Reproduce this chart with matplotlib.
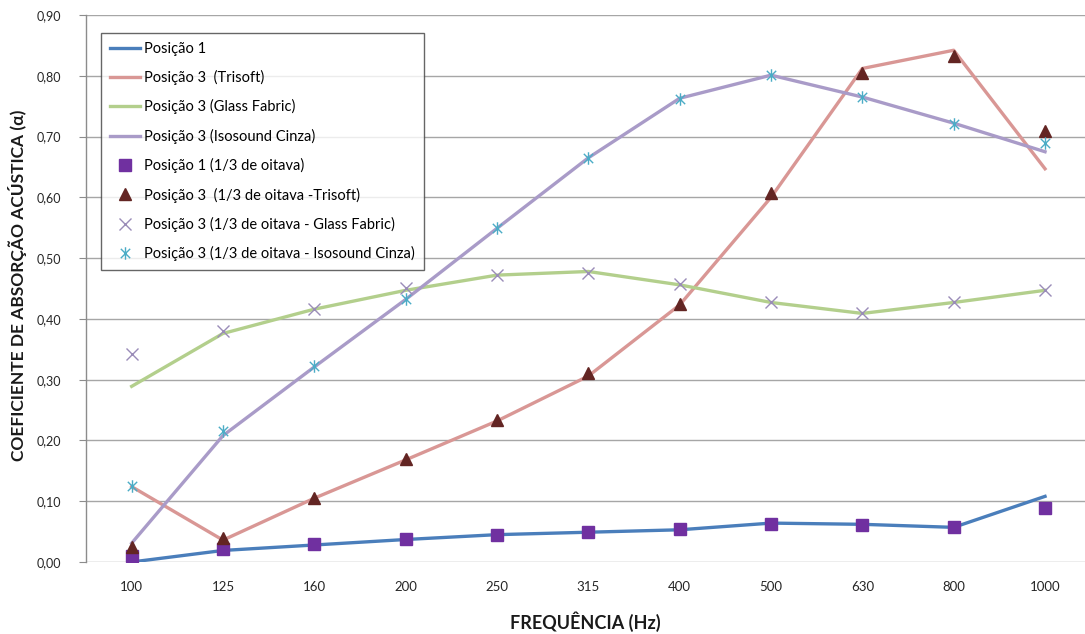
import matplotlib
matplotlib.use("Agg")
import matplotlib.pyplot as plt
from matplotlib.path import Path
from matplotlib.ticker import FuncFormatter, MultipleLocator

plt.rcParams['font.family'] = ['Lato', 'DejaVu Sans']

frequencias = ['100', '125', '160', '200', '250', '315', '400', '500', '630', '800', '1000']

posicao1 = [0.000, 0.019, 0.028, 0.037, 0.045, 0.049, 0.053, 0.064, 0.062, 0.057, 0.108]
trisoft = [0.124, 0.036, 0.105, 0.168, 0.232, 0.306, 0.423, 0.600, 0.812, 0.842, 0.647]
glass_fabric = [0.289, 0.376, 0.416, 0.447, 0.472, 0.478, 0.456, 0.427, 0.409, 0.427, 0.447]
isosound = [0.031, 0.208, 0.321, 0.432, 0.549, 0.665, 0.763, 0.801, 0.765, 0.722, 0.675]

posicao1_oct = [0.010, 0.021, 0.029, 0.038, 0.045, 0.049, 0.054, 0.063, 0.061, 0.058, 0.089]
trisoft_oct = [0.025, 0.040, 0.105, 0.169, 0.234, 0.311, 0.425, 0.607, 0.804, 0.832, 0.709]
glass_fabric_oct = [0.342, 0.380, 0.416, 0.450, 0.472, 0.476, 0.457, 0.427, 0.409, 0.427, 0.447]
isosound_oct = [0.125, 0.216, 0.322, 0.432, 0.549, 0.665, 0.762, 0.801, 0.765, 0.721, 0.689]

# asterisk made of a vertical bar and a diagonal cross
star = Path([(0, -1), (0, 1), (-0.75, -0.75), (0.75, 0.75), (-0.75, 0.75), (0.75, -0.75)],
            [Path.MOVETO, Path.LINETO, Path.MOVETO, Path.LINETO, Path.MOVETO, Path.LINETO])

fig = plt.figure(figsize=(10.85, 6.34), dpi=100)
ax = fig.add_axes([86 / 1085, 1 - 562 / 634, 1 - 86 / 1085, (562 - 15) / 634])

x = list(range(len(frequencias)))
lw = 2.4
ax.plot(x, posicao1, color='#4A7EBB', lw=lw, label='Posição 1', zorder=3)
ax.plot(x, trisoft, color='#D99795', lw=lw, label='Posição 3  (Trisoft)', zorder=3)
ax.plot(x, glass_fabric, color='#B3CF8C', lw=lw, label='Posição 3 (Glass Fabric)', zorder=3)
ax.plot(x, isosound, color='#A99BC8', lw=lw, label='Posição 3 (Isosound Cinza)', zorder=3)

ax.plot(x, posicao1_oct, ls='none', marker='s', ms=8, color='#7030A0',
        label='Posição 1 (1/3 de oitava)', zorder=4)
ax.plot(x, trisoft_oct, ls='none', marker='^', ms=8.5, color='#632523',
        label='Posição 3  (1/3 de oitava -Trisoft)', zorder=4)
ax.plot(x, glass_fabric_oct, ls='none', marker='x', ms=8.5, mew=1.0, color='#9A8CB8',
        label='Posição 3 (1/3 de oitava - Glass Fabric)', zorder=4)
ax.plot(x, isosound_oct, ls='none', marker=star, ms=9, mew=1.0, color='#4BACC6',
        label='Posição 3 (1/3 de oitava - Isosound Cinza)', zorder=4)

ax.set_xlim(-0.5, (1085 - 131) / 91.4)
ax.set_ylim(0, 0.9)
ax.yaxis.set_major_locator(MultipleLocator(0.1))
ax.yaxis.set_major_formatter(FuncFormatter(lambda v, p: f'{v:.2f}'.replace('.', ',')))
ax.set_xticks(x)
ax.set_xticklabels(frequencias)

ax.grid(axis='y', color='#A6A6A6', lw=1.0, zorder=0)
ax.set_axisbelow(True)
for s in ['top', 'right', 'bottom']:
    ax.spines[s].set_visible(False)
ax.spines['left'].set_color('#8C8C8C')
ax.spines['left'].set_linewidth(1.0)
ax.tick_params(axis='y', length=5, color='#8C8C8C', labelsize=9, labelcolor='#262626', pad=13)
ax.tick_params(axis='x', length=0, labelsize=9.5, labelcolor='#262626', pad=14)

fig.text((86 + 1085) / 2 / 1085, 1 - 622 / 634, 'FREQUÊNCIA (Hz)', fontsize=13,
         fontweight='bold', color='#1A1A1A', ha='center', va='center')
fig.text(18 / 1085, 1 - 285 / 634, 'COEFICIENTE DE ABSORÇÃO ACÚSTICA (α)', fontsize=12.5,
         fontweight='bold', color='#1A1A1A', ha='center', va='center', rotation=90)

leg = ax.legend(loc='upper left', bbox_to_anchor=(15 / 999, (562 - 33) / 547),
                fontsize=10.5, frameon=True, fancybox=False, handlelength=2.1,
                handletextpad=0.25, labelspacing=0.98, borderpad=0.6, borderaxespad=0)
leg.get_frame().set_edgecolor('#404040')
leg.get_frame().set_linewidth(1.0)

fig.savefig('out.png', dpi=100)
